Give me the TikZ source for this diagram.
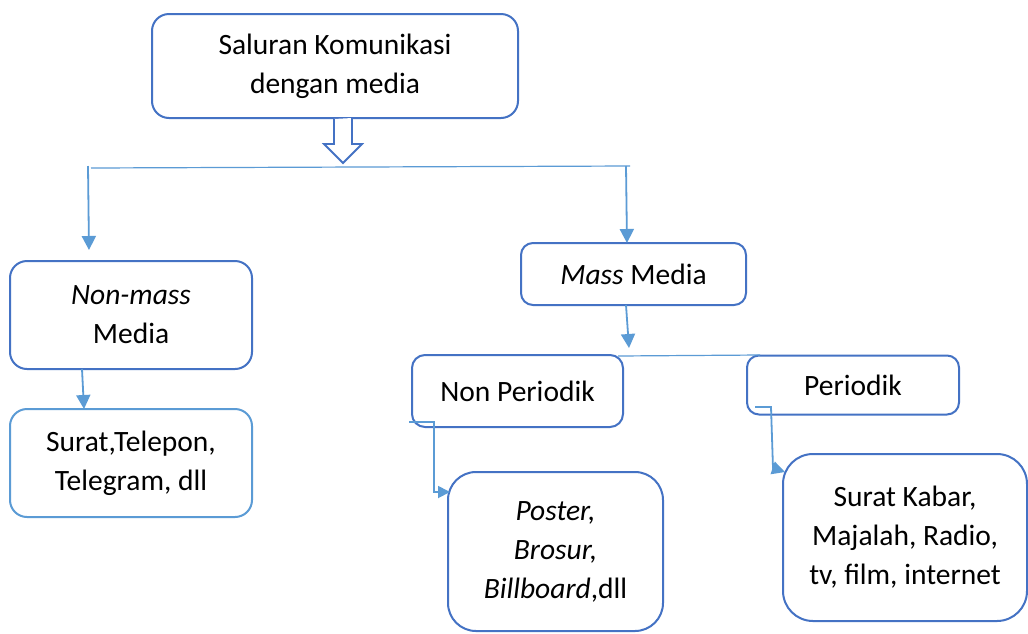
\documentclass[tikz,border=0pt]{standalone}
\usepackage{fontspec}
\setmainfont{Carlito}
\usetikzlibrary{arrows.meta}
\definecolor{boxblue}{HTML}{4472C4}
\definecolor{linkblue}{HTML}{5B9BD5}
\begin{document}
\begin{tikzpicture}[x=1pt,y=-1pt,
  box/.style={draw=boxblue, line width=2pt, fill=white, inner sep=0pt, align=center,
    font=\fontsize{29.5}{39}\selectfont},
  conn/.style={draw=linkblue, line width=1.8pt, -{Triangle[length=14pt,width=14pt]}},
  thin/.style={draw=linkblue, line width=1.2pt}]
\useasboundingbox (0,0) rectangle (1028,633);
\fill[white] (0,0) rectangle (1028,633);

\node[box, rounded corners=17pt, minimum width=366pt, minimum height=104pt] (top) at (335,66) {Saluran Komunikasi\\dengan media};
\node[box, rounded corners=17pt, minimum width=242pt, minimum height=108pt] (nonmass) at (131,315) {\textit{Non-mass}\\Media};
\node[box, draw=linkblue, rounded corners=17pt, minimum width=242pt, minimum height=108pt] (surat) at (131,463) {Surat,Telepon,\\Telegram, dll};
\node[box, rounded corners=12pt, minimum width=225pt, minimum height=62pt] (mass) at (633.5,274) {\textit{Mass} Media};
\node[box, rounded corners=13pt, minimum width=211pt, minimum height=72pt] (nonper) at (517.5,391) {Non Periodik};
\node[box, rounded corners=12pt, minimum width=212pt, minimum height=59pt] (per) at (853,385) {Periodik};
\node[box, rounded corners=28pt, minimum width=215pt, minimum height=159pt] (poster) at (555.5,551.5) {\textit{Poster,}\\\textit{Brosur,}\\\textit{Billboard},dll};
\node[box, rounded corners=30pt, minimum width=244pt, minimum height=167pt] (kabar) at (905,537.5) {Surat Kabar,\\Majalah, Radio,\\tv, film, internet};

% hollow arrow below top box
\draw[boxblue, line width=1.8pt, fill=white, line join=miter]
  ([xshift=-1pt]top.south) -- (334,144) -- (324,144) -- (343,163) -- (362,144) -- (352,144) -- (352,118);

% top split
\coordinate (hl) at (91,168);
\coordinate (hr) at (630,166);
\draw[thin] (hl) -- (hr);
\coordinate (la) at (88,166);
\coordinate (lb) at (89,250);
\draw[conn] (la) -- (lb);
\coordinate (ra) at (626,166);
\draw[conn] (ra) -- (627,243);

% non-mass to surat
\draw[conn] (82,369) -- (84,409);

% mass down
\draw[conn] (626,305) -- (629,348);
\coordinate (ml) at (618,356);
\coordinate (mr) at (760,355);
\draw[thin] (ml) -- (mr);

% non periodik to poster
\coordinate (np0) at (409,422);
\draw[draw=linkblue, line width=1.8pt, -{Triangle[length=12pt,width=12pt]}]
  (np0) -- (434,422) -- (434,492) -- (450,492);

% periodik to kabar
\coordinate (p0) at (755,407);
\draw[draw=linkblue, line width=1.8pt, -{Triangle[length=13pt,width=13pt]}]
  (p0) -- (771,407) -- (773,468) -- (785,472);
\end{tikzpicture}
\end{document}
